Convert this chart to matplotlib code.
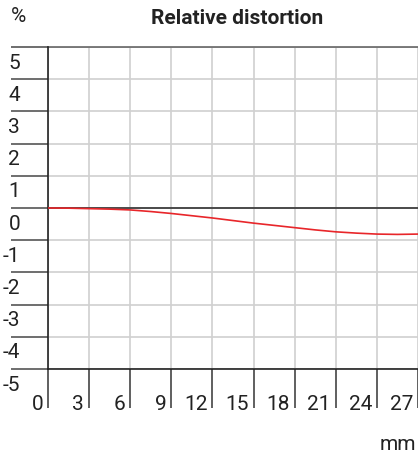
import numpy as np
import matplotlib.pyplot as plt
from matplotlib.transforms import blended_transform_factory

# image height (mm) vs relative distortion (%)
img_height = [0, 1.5, 3, 4.5, 6, 7.5, 9, 10.5, 12, 13.5, 15, 16.5, 18, 19.5, 21, 22.5, 24, 25.5, 27]
distortion = [0, -0.005, -0.02, -0.035, -0.06, -0.11, -0.17, -0.24, -0.31, -0.39, -0.47, -0.54,
              -0.61, -0.68, -0.74, -0.78, -0.81, -0.82, -0.81]
x_ticks = [0, 3, 6, 9, 12, 15, 18, 21, 24, 27]
y_ticks = [5, 4, 3, 2, 1, 0, -1, -2, -3, -4, -5]

plt.rcParams['font.family'] = ['Roboto', 'DejaVu Sans']
W, H = 418, 456
fig = plt.figure(figsize=(W / 100, H / 100), dpi=100)
ax = fig.add_axes([48 / W, 1 - 370 / H, 370 / W, 322 / H])

ax.set_xlim(0, 26.9)
ax.set_ylim(-5, 5)
ax.set_xticks(x_ticks)
ax.set_yticks(y_ticks)
ax.set_xticklabels([])
ax.set_yticklabels([])
for s in ['top', 'right', 'bottom']:
    ax.spines[s].set_visible(False)
ax.spines['left'].set_color('#222222')
ax.spines['left'].set_linewidth(1.2)
ax.grid(True, color='#d0d0d0', linewidth=1.2)
ax.tick_params(axis='y', direction='out', length=37 * 0.72, width=1.2, color='#555555')
ax.tick_params(axis='x', direction='out', length=39 * 0.72, width=1.2, color='#444444')

ax.axhline(0, color='#333333', linewidth=1.2, zorder=2)
ax.axhline(-5, color='#222222', linewidth=1.2, zorder=2, clip_on=False)
ax.axhline(5, color='#666666', linewidth=1.2, zorder=2, clip_on=False)

ax.plot(img_height, distortion, color='#e8262a', linewidth=1.2, zorder=3)

txt = '#222222'
fs = 15
ty = blended_transform_factory(fig.transFigure, ax.transData)
for v in y_ticks:
    ax.text(20 / W, v - 0.47, str(v), transform=ty, ha='right', va='center',
            fontsize=fs, color=txt)

tx = blended_transform_factory(ax.transData, fig.transFigure)
for v in x_ticks:
    ax.text(v - 5 / 13.75, 1 - 410 / H, str(v), transform=tx, ha='right', va='baseline',
            fontsize=fs, color=txt)

fig.text(18 / W, 1 - 16 / H, '%', ha='center', va='center', fontsize=fs, color=txt)
fig.text(237 / W, 1 - 18 / H, 'Relative distortion', ha='center', va='center',
         fontsize=fs, fontweight='semibold', color=txt)
fig.text(416 / W, 1 - 450 / H, 'mm', ha='right', va='baseline', fontsize=fs, color=txt)

fig.savefig('out.png', dpi=100)
